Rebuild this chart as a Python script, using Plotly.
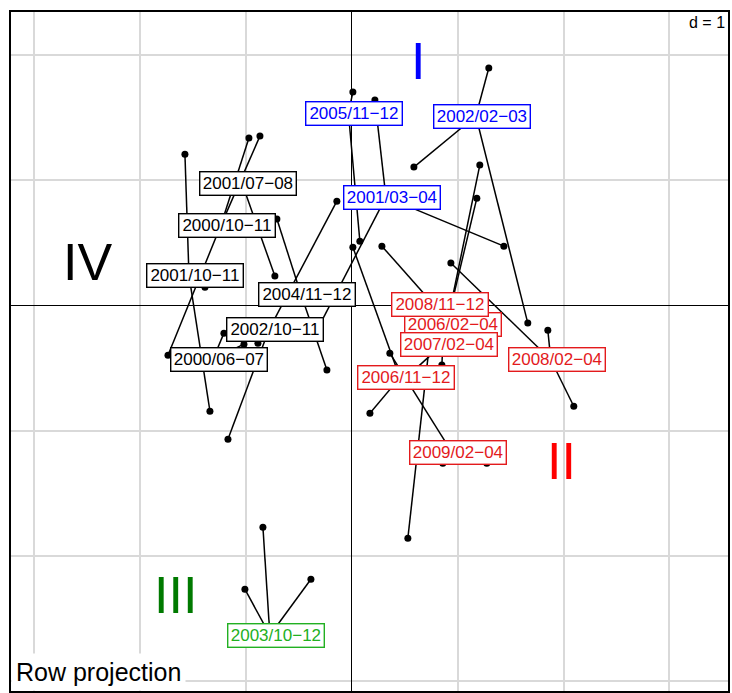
import plotly.graph_objects as go

# ---------------- data ----------------
group_names = ["2005/11−12", "2002/02−03", "2001/03−04",
               "2001/07−08", "2000/10−11", "2001/10−11", "2004/11−12",
               "2002/10−11", "2000/06−07",
               "2006/02−04", "2008/11−12", "2007/02−04", "2008/02−04",
               "2006/11−12", "2009/02−04", "2003/10−12"]
group_quadrant = ["I", "I", "I",
                  "IV", "IV", "IV", "IV", "IV", "IV",
                  "II", "II", "II", "II", "II", "II", "III"]
center_x = [-0.030, 1.173, 0.324, -1.035, -1.233, -1.535, -0.478, -0.780, -1.308,
            0.899, 0.776, 0.861, 1.880, 0.456, 0.946, -0.771]
center_y = [1.535, 1.511, 0.864, 0.976, 0.641, 0.242, 0.090, -0.193, -0.429,
            -0.149, 0.006, -0.309, -0.433, -0.576, -1.171, -2.631]

point_group = ["2005/11−12", "2005/11−12",
               "2002/02−03", "2002/02−03", "2002/02−03",
               "2001/03−04", "2001/03−04", "2001/03−04",
               "2001/07−08",
               "2000/10−11", "2000/10−11", "2000/10−11",
               "2001/10−11", "2001/10−11", "2001/10−11",
               "2004/11−12", "2004/11−12",
               "2002/10−11", "2002/10−11", "2002/10−11",
               "2000/06−07", "2000/06−07",
               "2008/11−12", "2008/11−12",
               "2006/02−04",
               "2007/02−04", "2007/02−04", "2007/02−04",
               "2008/02−04", "2008/02−04", "2008/02−04",
               "2006/11−12", "2006/11−12",
               "2009/02−04", "2009/02−04", "2009/02−04",
               "2003/10−12", "2003/10−12", "2003/10−12"]
point_x = [0.012, 0.078,
           1.295, 0.588, 1.663,
           0.220, 1.437, -0.346,
           -0.724,
           -0.969, -0.865, -1.733,
           -1.573, -1.337, -1.384,
           -0.705, -0.233,
           -0.139, -1.167, -0.884,
           -1.205, -1.016,
           0.286, 0.531,
           1.182,
           1.210, 0.852, 0.456,
           0.937, 1.852, 2.097,
           0.012, 0.173,
           0.361, 0.861, 1.276,
           -0.837, -1.007, -0.384]
point_y = [1.702, 0.513,
           1.894, 1.104, -0.141,
           1.638, 0.473, -0.229,
           0.234,
           1.335, 1.351, -0.397,
           1.207, -0.844, 0.146,
           0.689, -0.516,
           0.832, -1.067, -0.301,
           -0.221, -0.309,
           0.473, -1.857,
           0.856,
           1.120, -0.476, -0.620,
           0.338, -0.197, -0.804,
           0.465, -0.860,
           -0.381, -1.259, -1.259,
           -1.769, -2.264, -2.184]

quad_names = ["I", "II", "III", "IV"]
quad_x = [0.625, 1.984, -1.658, -2.497]
quad_y = [1.95, -1.243, -2.312, 0.35]

# ---------------- style ----------------
FONT = "Liberation Sans, Arial, sans-serif"
quad_color = {"I": "#0000FF", "II": "#FF0000", "III": "#007A00", "IV": "#000000"}
label_color = {"I": "#0000FF", "II": "#E31A1C", "III": "#22B022", "IV": "#000000"}

fig = go.Figure()

# star segments: centre -> each point
cx_map = dict(zip(group_names, center_x))
cy_map = dict(zip(group_names, center_y))
seg_x, seg_y = [], []
for g, px, py in zip(point_group, point_x, point_y):
    seg_x += [cx_map[g], px, None]
    seg_y += [cy_map[g], py, None]
fig.add_trace(go.Scatter(x=seg_x, y=seg_y, mode="lines",
                         line=dict(color="black", width=1.5),
                         hoverinfo="skip", showlegend=False))
fig.add_trace(go.Scatter(x=point_x, y=point_y, mode="markers",
                         marker=dict(color="black", size=7),
                         hoverinfo="skip", showlegend=False))

annotations = []
for name, q, x, y in zip(group_names, group_quadrant, center_x, center_y):
    c = label_color[q]
    annotations.append(dict(x=x, y=y, xref="x", yref="y", text=name,
                            showarrow=False, xshift=6,
                            font=dict(family=FONT, size=17, color=c),
                            bgcolor="white", bordercolor=c, borderwidth=1.4,
                            borderpad=2, width=91, height=18))
for name, x, y in zip(quad_names, quad_x, quad_y):
    annotations.append(dict(x=x, y=y, xref="x", yref="y", text=name,
                            showarrow=False,
                            font=dict(family=FONT, size=52, color=quad_color[name])))
annotations.append(dict(x=1, y=1, xref="paper", yref="paper", text="d = 1",
                        xanchor="right", yanchor="top", showarrow=False,
                        xshift=-2, yshift=-1, bgcolor="white",
                        font=dict(family=FONT, size=16, color="black")))
annotations.append(dict(x=0, y=0, xref="paper", yref="paper", text="Row projection",
                        xanchor="left", yanchor="bottom", showarrow=False,
                        xshift=1, yshift=1, bgcolor="white", borderpad=4,
                        font=dict(family=FONT, size=25, color="black")))

axis_common = dict(showgrid=True, gridcolor="#D9D9D9", gridwidth=2,
                   zeroline=True, zerolinecolor="black", zerolinewidth=1.3,
                   showticklabels=False, ticks="", dtick=1, tick0=0,
                   showline=False, fixedrange=True)

fig.update_layout(
    width=732, height=693,
    margin=dict(l=10, r=3, t=11, b=1),
    paper_bgcolor="white", plot_bgcolor="white",
    xaxis=dict(range=[-3.224, 3.562], **axis_common),
    yaxis=dict(range=[-3.084, 2.349], **axis_common),
    annotations=annotations,
    shapes=[dict(type="rect", xref="paper", yref="paper", x0=0, x1=1, y0=0, y1=1,
                 line=dict(color="black", width=2), layer="above")],
    showlegend=False,
    hovermode=False,
)

fig.write_html("out.html",
               config={"displayModeBar": False, "staticPlot": True},
               post_script="document.body.style.margin='0px';"
                           "document.body.style.overflow='hidden';")
